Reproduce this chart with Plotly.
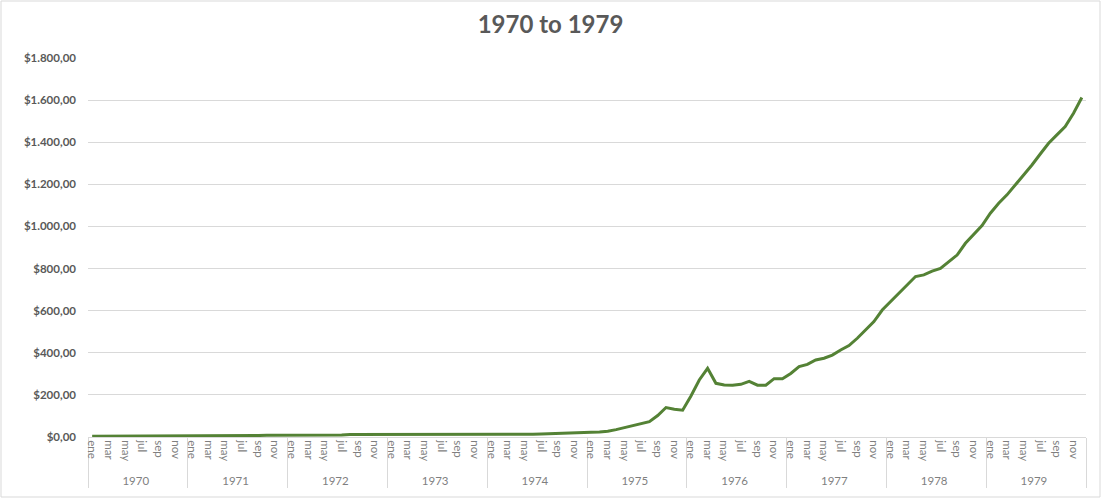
import plotly.graph_objects as go

years = ["1970", "1971", "1972", "1973", "1974", "1975", "1976", "1977", "1978", "1979"]
months = ["ene", "feb", "mar", "abr", "may", "jun", "jul", "ago", "sep", "oct", "nov", "dic"]
shown_months = ["ene", "mar", "may", "jul", "sep", "nov"]

y_tickvals = [0, 200, 400, 600, 800, 1000, 1200, 1400, 1600, 1800]
y_ticktext = ["$0,00", "$200,00", "$400,00", "$600,00", "$800,00", "$1.000,00",
              "$1.200,00", "$1.400,00", "$1.600,00", "$1.800,00"]

v1970 = [3.8, 3.8, 3.8, 3.8, 3.9, 4.0, 4.0, 4.0, 4.0, 4.0, 4.0, 4.0]
v1971 = [4.0, 4.0, 4.0, 4.0, 4.2, 4.5, 5.0, 5.5, 7.0, 8.0, 8.0, 8.5]
v1972 = [8.5, 9.0, 9.0, 9.0, 9.5, 10.0, 10.0, 12.0, 12.0, 10.0, 10.0, 10.0]
v1973 = [10.0, 12.0, 10.0, 10.0, 12.0, 12.0, 10.0, 10.0, 10.0, 10.0, 10.0, 10.0]
v1974 = [12.0, 13.0, 13.0, 13.0, 13.0, 13.0, 14.0, 15.0, 15.0, 16.0, 17.0, 18.0]
v1975 = [22, 24, 27, 35, 44, 52, 62, 73, 102, 140, 132, 127]
v1976 = [195, 271, 326, 255, 247, 246, 250, 264, 246, 246, 277, 277]
v1977 = [302, 334, 345, 366, 374, 389, 413, 434, 469, 511, 548, 603]
v1978 = [642, 682, 722, 762, 770, 788, 801, 833, 864, 920, 964, 1004]
v1979 = [1063, 1110, 1150, 1197, 1249, 1292, 1344, 1395, 1435, 1474, 1538, 1612]

series = [v1970, v1971, v1972, v1973, v1974, v1975, v1976, v1977, v1978, v1979]

# inner labels: only every other month shown; blanks made unique with zero-width spaces
inner = []
for i, m in enumerate(months):
    inner.append(m if m in shown_months else "\u200b" * (i + 1))

xs_year, xs_month, ys = [], [], []
for y, vals in zip(years, series):
    for lab, v in zip(inner, vals):
        xs_year.append(y)
        xs_month.append(lab)
        ys.append(v)

n = len(ys)
W, H = 1101, 498
L, R, T, B = 88, 15, 58, 61
pw = W - L - R
ph = H - T - B

fig = go.Figure()
fig.add_trace(go.Scatter(
    x=[xs_year, xs_month], y=ys, mode="lines",
    line=dict(color="#548235", width=3), hoverinfo="y", showlegend=False,
))

fig.update_layout(
    width=W, height=H,
    margin=dict(l=L, r=R, t=T, b=B),
    paper_bgcolor="white", plot_bgcolor="white",
    title=dict(text="<b>1970 to 1979</b>", x=0.5, xanchor="center", y=1 - 25 / H, yanchor="middle",
               font=dict(family="Lato", size=24, color="#595959")),
    font=dict(family="Lato", color="#595959"),
    xaxis=dict(
        type="multicategory", showgrid=False, ticks="",
        range=[-0.5, n - 0.5],
        showline=True, linecolor="#d9d9d9", linewidth=1,
        showdividers=True, dividercolor="#d9d9d9", dividerwidth=1,
        tickangle=90, tickfont=dict(family="Lato", size=11.5, color="#7f7f7f"),
        automargin=False,
    ),
    yaxis=dict(
        range=[0, 1800], tickvals=y_tickvals, ticktext=y_ticktext,
        showgrid=True, gridcolor="#d9d9d9", gridwidth=1, zeroline=False,
        tickfont=dict(family="Lato", size=11.5, color="#595959", weight="bold"),
        ticklabelstandoff=11, automargin=False,
    ),
    shapes=[dict(type="rect", xref="paper", yref="paper",
                 x0=-(L - 1) / pw, x1=1 + (R - 1) / pw, y0=-(B - 1) / ph, y1=1 + (T - 1) / ph,
                 line=dict(color="#d9d9d9", width=1), fillcolor="rgba(0,0,0,0)", layer="below")],
)

fig.write_html("out.html")
